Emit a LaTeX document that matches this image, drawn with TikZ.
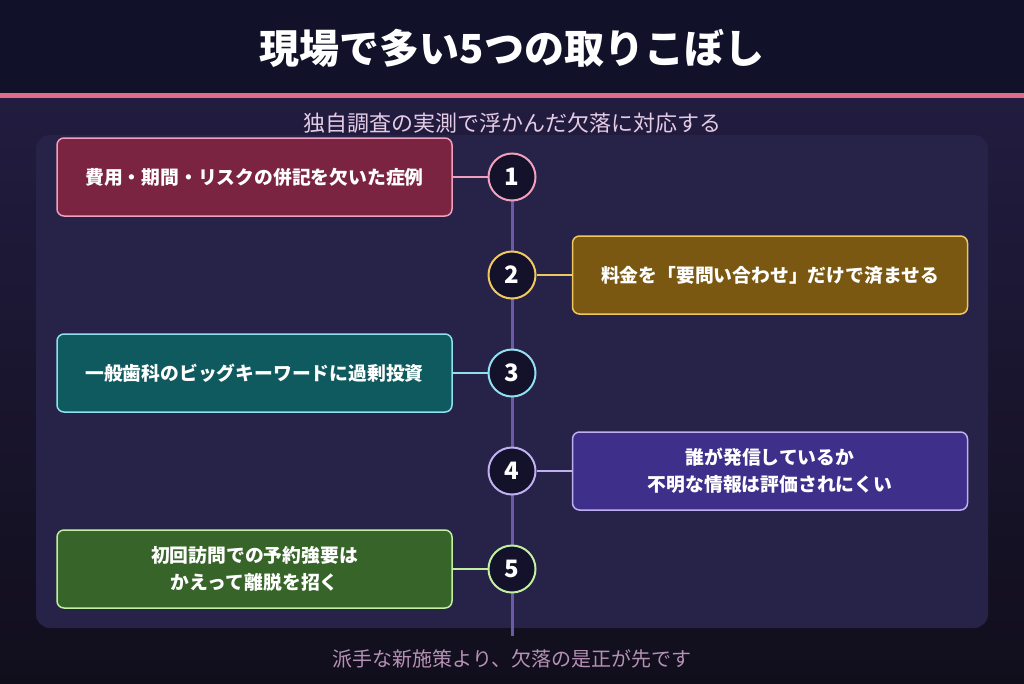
\documentclass[tikz,border=0pt]{standalone}
\usepackage{fontspec}
\setmainfont{Noto Sans CJK JP}
\begin{document}
\begin{tikzpicture}[x=1pt,y=-1pt,
  box/.style={draw,line width=1.5pt,rounded corners=7pt,minimum width=395pt,minimum height=78pt,text=white,font=\bfseries\fontsize{18.8}{27}\selectfont,align=center},
  num/.style={circle,draw,line width=2pt,fill=numbg,minimum size=47pt,inner sep=0pt,text=white,font=\bfseries\fontsize{24}{24}\selectfont},
  conn/.style={line width=2pt}]
\definecolor{topbg}{HTML}{12112A}
\definecolor{bgtop}{HTML}{221C40}
\definecolor{bgbot}{HTML}{110E1C}
\definecolor{panel}{HTML}{272248}
\definecolor{pinkline}{HTML}{E06C8A}
\definecolor{numbg}{HTML}{14122A}
\definecolor{vline}{HTML}{6A5AA8}
\definecolor{c1}{HTML}{7A2442}\definecolor{b1}{HTML}{F0A0BC}
\definecolor{c2}{HTML}{7A5812}\definecolor{b2}{HTML}{F0C860}
\definecolor{c3}{HTML}{0F5A5E}\definecolor{b3}{HTML}{90E0F0}
\definecolor{c4}{HTML}{3E2F8A}\definecolor{b4}{HTML}{C0B0F0}
\definecolor{c5}{HTML}{376428}\definecolor{b5}{HTML}{C0F0A0}
\useasboundingbox (0,0) rectangle (1024,683);
\shade[top color=bgtop,bottom color=bgbot] (0,95) rectangle (1024,683);
\fill[topbg] (0,0) rectangle (1024,93);
\fill[pinkline] (0,93) rectangle (1024,98);
\node[text=white,font=\bfseries\fontsize{40}{40}\selectfont] (title) at (512,48) {現場で多い5つの取りこぼし};
\node[text=white!80!violet,font=\fontsize{22}{22}\selectfont] (sub) at (512,123) {独自調査の実測で浮かんだ欠落に対応する};
\fill[panel,rounded corners=14pt] (36,135) rectangle (988,628);
\coordinate (top) at (512,177);
\coordinate (bot) at (512,636);
\draw[vline,line width=3pt] (top) -- (bot);
\foreach \i/\y in {1/177,2/275,3/373,4/471,5/569}{
  \node[num,draw=b\i] (n\i) at (512,\y) {\i};
}
\node[box,fill=c1,draw=b1] (t1) at (254.5,177) {費用・期間・リスクの併記を欠いた症例};
\node[box,fill=c2,draw=b2] (t2) at (770,275) {料金を「要問い合わせ」だけで済ませる};
\node[box,fill=c3,draw=b3] (t3) at (254.5,373) {一般歯科のビッグキーワードに過剰投資};
\node[box,fill=c4,draw=b4] (t4) at (770,471) {誰が発信しているか\\不明な情報は評価されにくい};
\node[box,fill=c5,draw=b5] (t5) at (254.5,569) {初回訪問での予約強要は\\かえって離脱を招く};
\draw[conn,b1] (t1) -- (n1);
\draw[conn,b2] (n2) -- (t2);
\draw[conn,b3] (t3) -- (n3);
\draw[conn,b4] (n4) -- (t4);
\draw[conn,b5] (t5) -- (n5);
\node[text=white!60!violet!70!gray,font=\fontsize{20}{20}\selectfont] (foot) at (512,659) {派手な新施策より、欠落の是正が先です};
\end{tikzpicture}
\end{document}
